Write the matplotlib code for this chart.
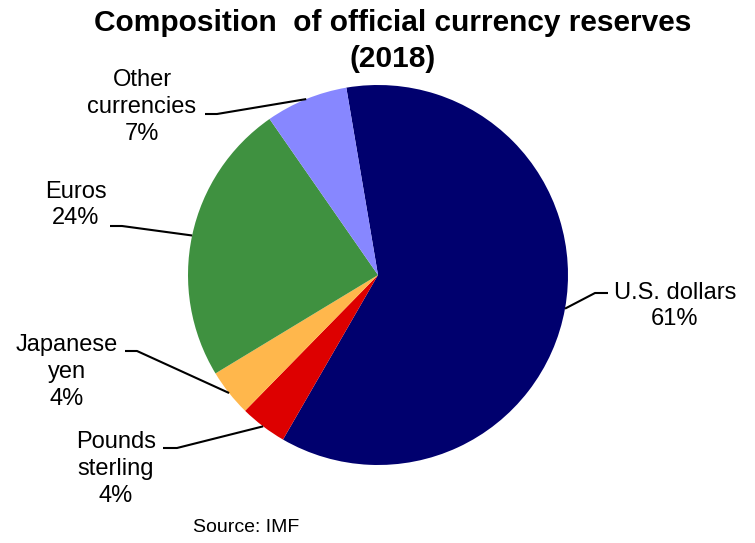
import numpy as np
import matplotlib.pyplot as plt

plt.rcParams['font.family'] = ['Liberation Sans', 'DejaVu Sans']

# Shares of official currency reserves, clockwise from the top
currencies = ['U.S. dollars', 'Pounds\nsterling', 'Japanese\nyen', 'Euros', 'Other\ncurrencies']
shares = [61, 4, 4, 24, 7]
colors = ['#00006E', '#DD0000', '#FFB74C', '#3F9140', '#8787FF']

# label text centres and the elbow of each leader line (pixel layout)
label_xy = [(675, 306), (116, 469), (67, 372), (76, 205), (142, 107)]
elbow_xy = [(595, 293), (177, 448), (137, 351), (122, 226), (217, 114)]
elbow_end = [(608, 293), (163, 448), (125, 351), (110, 226), (205, 114)]

W, H = 755, 543
fig = plt.figure(figsize=(W / 100, H / 100), dpi=100)
ax = fig.add_axes([0, 0, 1, 1])

cx, cy, r = 378, H - 275, 190
start = 99.6
wedges, _ = ax.pie(shares, colors=colors, startangle=start, counterclock=False,
                   center=(cx, cy), radius=r, frame=True,
                   wedgeprops=dict(linewidth=0))
ax.set_xlim(0, W)
ax.set_ylim(0, H)
ax.set_aspect('equal')
ax.axis('off')

for w, name, val, (lx, ly), (ex, ey), (fx, fy) in zip(wedges, currencies, shares,
                                                      label_xy, elbow_xy, elbow_end):
    mid = np.deg2rad((w.theta1 + w.theta2) / 2)
    sx = cx + r * np.cos(mid)
    sy = cy + r * np.sin(mid)
    ax.plot([sx, ex, fx], [sy, H - ey, H - fy], color='black', lw=1.5,
            solid_capstyle='butt')
    ax.text(lx, H - ly, f'{name}\n{val}%', ha='center', va='center',
            fontsize=17, linespacing=1.28)

ax.text(393, H - 23, 'Composition  of official currency reserves', ha='center',
        va='center', fontsize=21.5, fontweight='bold')
ax.text(393, H - 59, '(2018)', ha='center', va='center', fontsize=21.5,
        fontweight='bold')
ax.text(246, H - 528, 'Source: IMF', ha='center', va='center', fontsize=14)

fig.savefig('out.png', dpi=100)
